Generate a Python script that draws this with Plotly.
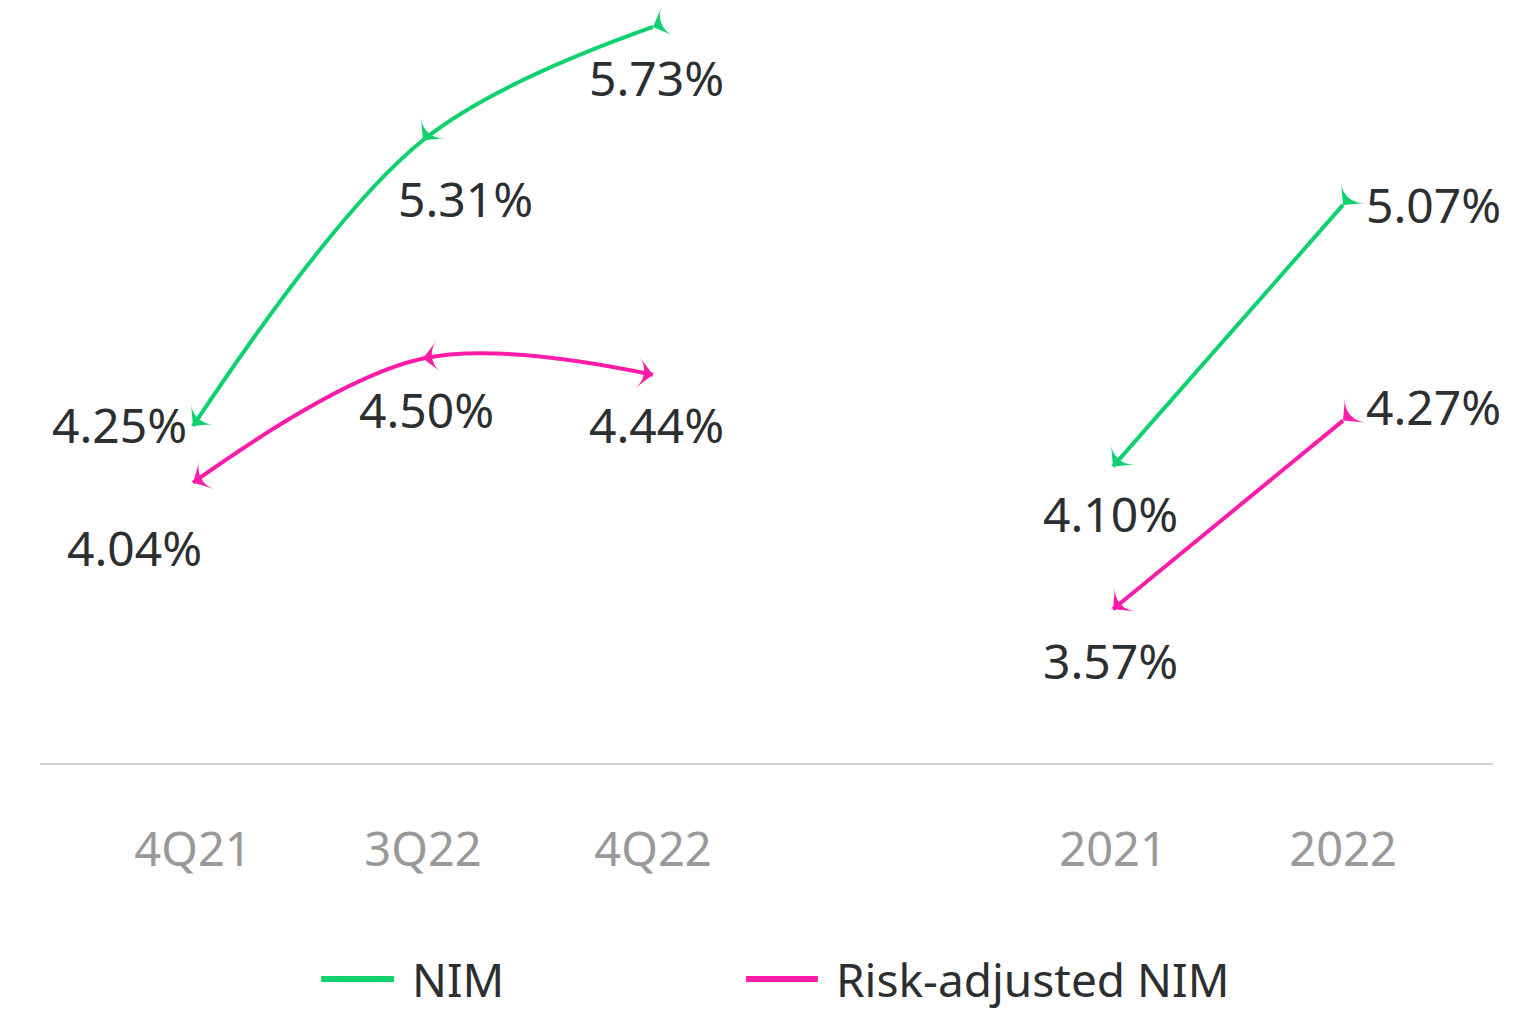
import plotly.graph_objects as go

# ---- data ----
categories = ["4Q21", "3Q22", "4Q22", "2021", "2022"]
x_pos = [0, 1, 2, 4, 5]
nim = [4.25, 5.31, 5.73, 4.10, 5.07]
risk_adj_nim = [4.04, 4.50, 4.44, 3.57, 4.27]
series_names = ["NIM", "Risk-adjusted NIM"]

# ---- style ----
GREEN = "#0fd16f"
PINK = "#fc1ca8"
TEXT = "#2b2f30"
FONT = "Noto Sans"

nim_angles = [220, 220, 248, 220, 220]
risk_angles = [242, 262, 98, 230, 230]
nim_shift = [(-73, 1), (43, -58), (4, -51), (-3, -47), (90, 0)]
risk_shift = [(-58, -65), (4, -51), (4, -50), (-3, -51), (90, 14)]

fig = go.Figure()

groups = [(0, 3), (3, 5)]
for vals, color, angles in [(nim, GREEN, nim_angles), (risk_adj_nim, PINK, risk_angles)]:
    for a, b in groups:
        fig.add_trace(go.Scatter(
            x=x_pos[a:b], y=vals[a:b], mode="lines+markers",
            line=dict(color=color, width=4, shape="spline", smoothing=1.0),
            marker=dict(symbol="arrow-wide", size=22, color=color, angle=angles[a:b],
                        line=dict(width=0)),
            showlegend=False, hoverinfo="skip", cliponaxis=False,
        ))

annotations = []
for vals, shifts in [(nim, nim_shift), (risk_adj_nim, risk_shift)]:
    for xi, v, (dx, dy) in zip(x_pos, vals, shifts):
        annotations.append(dict(
            x=xi, y=v, xref="x", yref="y", text=f"{v:.2f}%", showarrow=False,
            xshift=dx, yshift=dy, xanchor="center", yanchor="middle",
            font=dict(family=FONT, size=48, color=TEXT),
        ))

# manual legend
legend_y = -0.283
legend_items = [(series_names[0], GREEN, 0.1935, 0.2437, 0.2545),
                (series_names[1], PINK, 0.4859, 0.5354, 0.5466)]
shapes = []
for name, color, x0, x1, xt in legend_items:
    shapes.append(dict(type="line", xref="paper", yref="paper", x0=x0, x1=x1,
                       y0=legend_y, y1=legend_y, line=dict(color=color, width=6)))
    annotations.append(dict(x=xt, y=legend_y, xref="paper", yref="paper", text=name,
                            showarrow=False, xanchor="left", yanchor="middle",
                            font=dict(family=FONT, size=46, color=TEXT)))

fig.update_layout(
    width=1532, height=1011,
    margin=dict(l=40, r=39, t=0, b=248),
    paper_bgcolor="white", plot_bgcolor="white",
    font=dict(family=FONT, color=TEXT),
    xaxis=dict(range=[-0.665, 5.652], tickmode="array", tickvals=x_pos, ticktext=categories,
               showgrid=False, zeroline=False, showline=True, linecolor="#d3d3d3", linewidth=2,
               ticks="", ticklabelstandoff=45,
               tickfont=dict(family=FONT, size=47, color="#999999")),
    yaxis=dict(range=[3.0, 5.83], visible=False, showgrid=False, zeroline=False),
    annotations=annotations,
    shapes=shapes,
    showlegend=False,
)

fig.write_html("out.html")
